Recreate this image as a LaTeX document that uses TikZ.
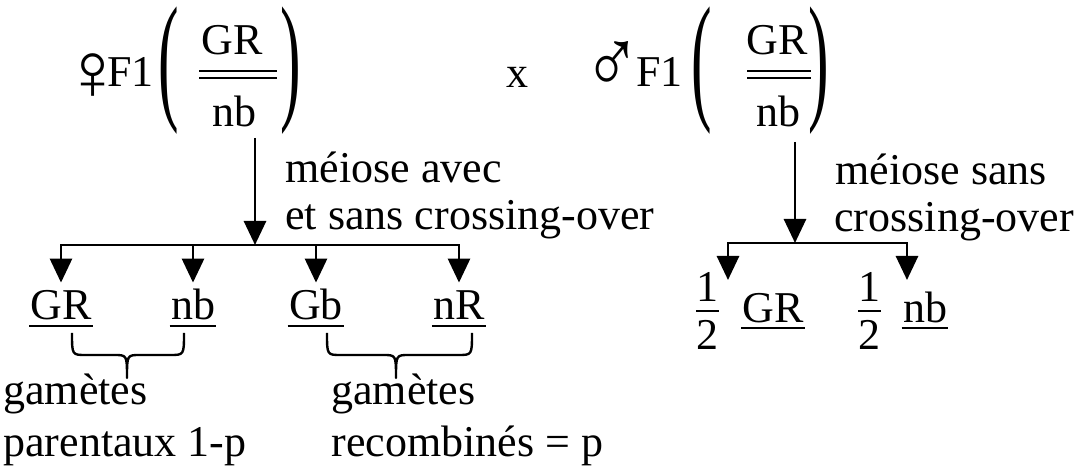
\documentclass[tikz,border=0pt]{standalone}
\usepackage{fontspec}
\setmainfont{Liberation Serif}
\usetikzlibrary{arrows.meta,calc}

% curly brace opening downwards: left x, right x, tip x
\newcommand\accolade[3]{%
  \draw[curly] (#1,333) .. controls (#1,355) and (#1,355) .. ({#1+14},355)
    -- ({#3-13},355) .. controls (#3,355) and (#3,355) .. (#3,378)
    .. controls (#3,355) and (#3,355) .. ({#3+13},355)
    -- ({#2-14},355) .. controls (#2,355) and (#2,355) .. (#2,333);}
% tall parentheses
\newcommand\tallparen[1]{\scalebox{1.4}[3.2]{#1}}
% sex symbols, enlarged, in a box as wide as their ink
\newcommand\sexsym[3]{\makebox[12pt][c]{\scalebox{#2}[#3]{#1}}}

\begin{document}
\begin{tikzpicture}[x=0.5pt,y=-0.5pt,
  txt/.style={inner sep=0pt, font=\fontsize{22}{26}\selectfont},
  lbl/.style={txt, anchor=base west},
  gam/.style={txt, anchor=base, text height=18.5pt},
  big/.style={txt, anchor=center},
  rule/.style={line width=1.2pt},
  link/.style={line width=1.4pt, line cap=rect},
  arr/.style={line width=1.4pt, -{Triangle[width=11pt,length=12pt]}},
  curly/.style={line width=1.2pt, line join=round},
]
\useasboundingbox (0,0) rectangle (1077,470);

% female parent
\node[big] (fsym) at (93,77) {\sexsym{♀}{1.85}{1.85}};
\node[lbl] (fF1) at (107,87) {F1};
\node[big] (flp) at (169,71) {\tallparen{(}};
\node[txt,anchor=base] (fGR) at (232,55) {GR};
\node[txt,anchor=base] (fnb) at (234,127) {nb};
\node[big] (frp) at (291,71) {\tallparen{)}};
\draw[rule] (199,71) -- (277,71) (199,78) -- (277,78);

\node[txt,anchor=base] (cross) at (517,88) {x};

% male parent
\node[big] (msym) at (612,67) {\sexsym{♂}{1.75}{2.1}};
\node[lbl] (mF1) at (636,87) {F1};
\node[big] (mlp) at (702,71) {\tallparen{(}};
\node[txt,anchor=base] (mGR) at (777,55) {GR};
\node[txt,anchor=base] (mnb) at (778,127) {nb};
\node[big] (mrp) at (819,71) {\tallparen{)}};
\draw[rule] (747,71) -- (811,71) (747,78) -- (811,78);

% female meiosis
\coordinate (fTop) at (255,138);
\coordinate (fJ) at (255,245);
\draw[arr] (fTop) -- (fJ);
\node[lbl] (fm1) at (285,183) {méiose avec};
\node[lbl] (fm2) at (285,230) {et sans crossing-over};

\node[gam] (gGR) at (61,320) {GR};
\node[gam] (gnb) at (193,320) {nb};
\node[gam] (gGb) at (316,320) {Gb};
\node[gam] (gnR) at (459,320) {nR};
\draw[link] (gGR.north |- fJ) -- (gnR.north |- fJ);
\foreach \g in {gGR,gnb,gGb,gnR}{
  \draw[arr] (\g.north |- fJ) -- (\g.north);
  \draw[rule] ([shift={(-1,6)}]\g.base west) -- ([shift={(1,6)}]\g.base east);
}

\accolade{72}{184}{127}
\accolade{327}{472}{396}

\node[lbl] (pa1) at (3,405) {gamètes};
\node[lbl] (pa2) at (3,457) {parentaux 1-p};
\node[lbl] (re1) at (331,405) {gamètes};
\node[lbl] (re2) at (331,457) {recombinés = p};

% male meiosis
\coordinate (mTop) at (795,142);
\coordinate (mJ) at (795,243);
\draw[arr] (mTop) -- (mJ);
\node[lbl] (mm1) at (835,185) {méiose sans};
\node[lbl] (mm2) at (834,232) {crossing-over};

\coordinate (mL) at (728,280);
\coordinate (mR) at (907,280);
\draw[link] (mL |- mJ) -- (mR |- mJ);
\draw[arr] (mL |- mJ) -- (mL);
\draw[arr] (mR |- mJ) -- (mR);

\node[txt,anchor=base] (o1) at (707,302) {1};
\node[txt,anchor=base] (t1) at (707,350) {2};
\draw[rule] (696,311) -- (719,311);
\node[gam] (rGR) at (773,323) {GR};
\draw[rule] ([shift={(-1,5)}]rGR.base west) -- ([shift={(1,5)}]rGR.base east);

\node[txt,anchor=base] (o2) at (869,302) {1};
\node[txt,anchor=base] (t2) at (869,350) {2};
\draw[rule] (858,311) -- (881,311);
\node[gam] (rnb) at (925,323) {nb};
\draw[rule] ([shift={(-1,5)}]rnb.base west) -- ([shift={(1,5)}]rnb.base east);
\end{tikzpicture}
\end{document}
